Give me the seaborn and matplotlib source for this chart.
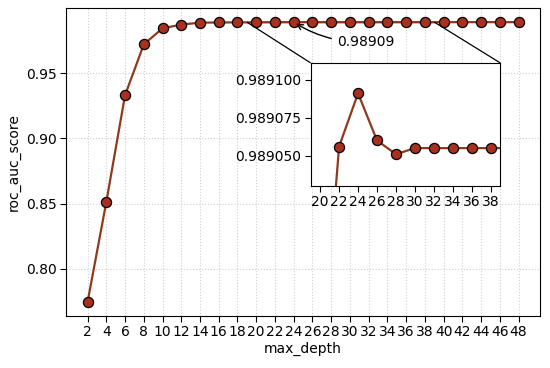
import numpy as np
import pandas as pd
import seaborn as sns
import matplotlib.pyplot as plt
from mpl_toolkits.axes_grid1.inset_locator import mark_inset

max_depth = list(range(2, 50, 2))
roc_auc = [0.7746, 0.8512, 0.9330, 0.9720, 0.9843, 0.9872, 0.98865, 0.98880,
           0.98887, 0.98890, 0.989056, 0.989091, 0.989060, 0.989051, 0.989055,
           0.989055, 0.989055, 0.989055, 0.989055, 0.989055, 0.989055, 0.989055,
           0.989055, 0.989055]
best_label = "0.98909"

df = pd.DataFrame({'max_depth': max_depth, 'roc_auc_score': roc_auc})

plt.rcParams['font.family'] = ['DejaVu Sans']
fs = 10

line_kw = dict(color='#8f3a1c', marker='o', markersize=7.3, markerfacecolor='#a8301e',
               markeredgecolor='black', markeredgewidth=0.9, linewidth=1.6)

fig, ax = plt.subplots(figsize=(5.5, 3.68), dpi=100)
fig.subplots_adjust(left=0.120, right=0.982, top=0.978, bottom=0.141)
sns.lineplot(data=df, x='max_depth', y='roc_auc_score', ax=ax, **line_kw)
ax.set_xticks(max_depth)
ax.grid(True, linestyle=':', color='#d0d0d0', linewidth=0.8)
ax.tick_params(labelsize=fs, length=4, pad=2.5)
ax.set_xlabel('max_depth', fontsize=fs, labelpad=2)
ax.set_ylabel('roc_auc_score', fontsize=fs)

ax.annotate(best_label, xy=(24, 0.98909), xytext=(28.6, 0.9705),
            fontsize=fs, arrowprops=dict(arrowstyle='->', color='black',
                                         connectionstyle='arc3,rad=-0.15'))

# inset zoom
axins = ax.inset_axes([0.516, 0.422, 0.40, 0.40])
sns.lineplot(data=df, x='max_depth', y='roc_auc_score', ax=axins, **line_kw)
axins.set_xlim(19, 39)
axins.set_ylim(0.989030, 0.989111)
axins.set_xticks(list(range(20, 40, 2)))
axins.set_yticks([0.989050, 0.989075, 0.989100])
axins.ticklabel_format(axis='y', useOffset=False)
axins.set_xlabel('')
axins.set_ylabel('')
axins.tick_params(labelsize=fs, length=4, pad=2.5)
axins.set_facecolor('white')
mark_inset(ax, axins, loc1=2, loc2=1, fc='none', ec='black', lw=0.9)

plt.savefig('out.png', dpi=100)
